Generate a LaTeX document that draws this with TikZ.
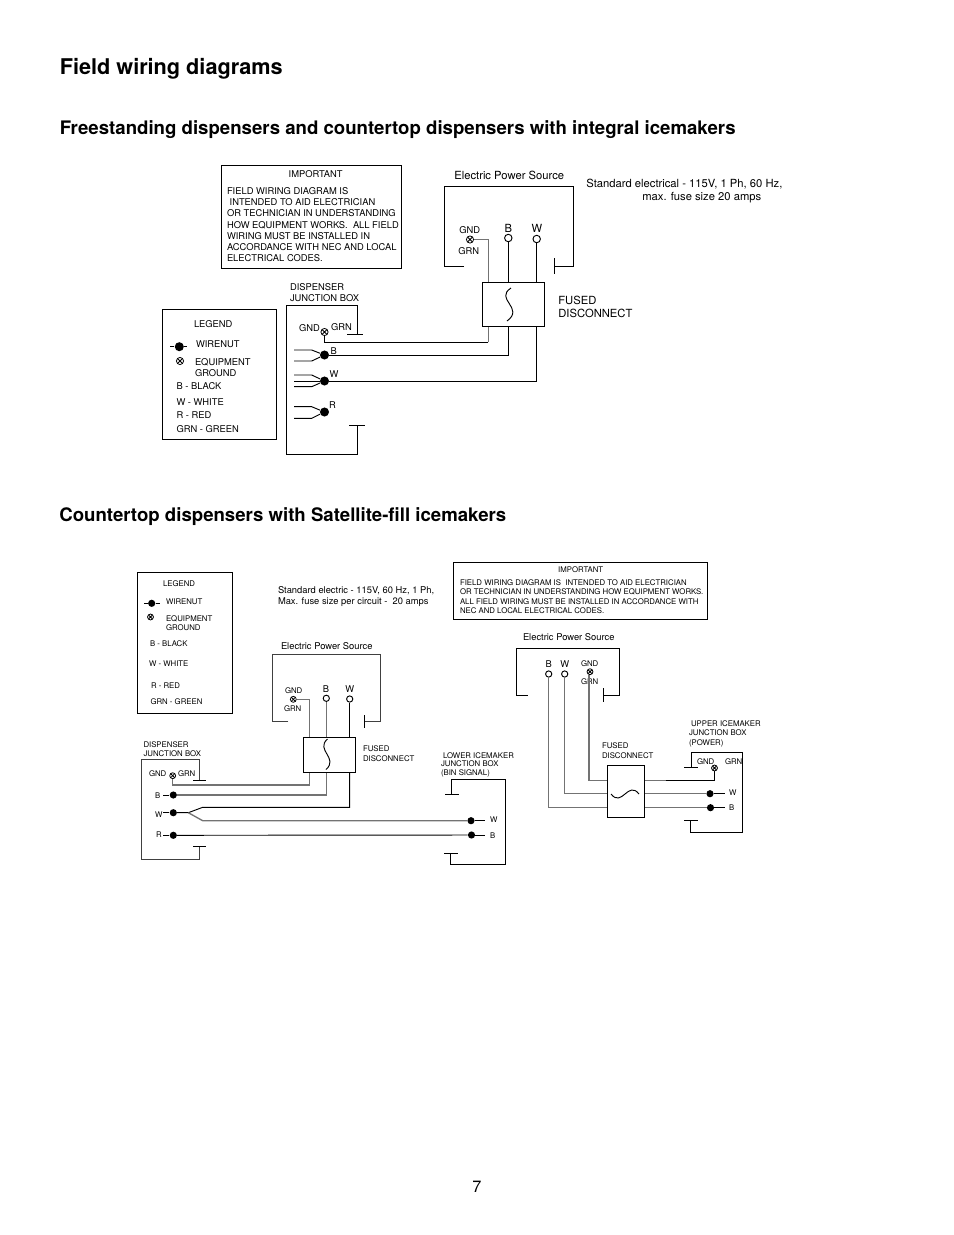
\documentclass[tikz,border=0pt]{standalone}
\usepackage{fontspec}
\setmainfont{TeX Gyre Heros}
\newcommand{\pxu}{0.6415pt}
\begin{document}
\begin{tikzpicture}[
					x=\pxu, y=-\pxu,
					wire/.style={black, line width=0.6pt},
					graywire/.style={black!55, line width=0.85pt},
					outline/.style={black, line width=0.6pt},
					panel/.style={rectangle, draw=black, line width=0.6pt, anchor=north west, inner sep=0pt, xshift=-0.4pt},
					fuse/.style={rectangle, draw=black, line width=0.6pt, anchor=north west, inner sep=0pt, fill=white, xshift=-0.3pt},
					nutbig/.style={circle, fill=black, inner sep=0pt, minimum size=5.8pt},
					nutsmall/.style={circle, fill=black, inner sep=0pt, minimum size=4.6pt},
					term/.style={circle, draw=black, line width=0.6pt, fill=white, inner sep=0pt, minimum size=4.8pt},
					gndbig/.style={circle, draw=black, line width=0.5pt, fill=white, inner sep=0pt, minimum size=4.6pt, path picture={\draw[line width=0.5pt] (path picture bounding box.south west) -- (path picture bounding box.north east) (path picture bounding box.north west) -- (path picture bounding box.south east);}},
					gndsmall/.style={gndbig, minimum size=3.8pt},
					head/.style={anchor=west, inner sep=0pt, font=\bfseries\fontsize{11.95}{14}\selectfont, text height=8.7pt, text depth=0pt},
					title/.style={anchor=west, inner sep=0pt, font=\bfseries\fontsize{13.9}{16}\selectfont, text height=10.1pt, text depth=0pt},
					bigtxt/.style={anchor=west, inner sep=0pt, font=\fontsize{7.2}{9}\selectfont, text height=5.2pt, text depth=0pt},
					midtxt/.style={anchor=west, inner sep=0pt, xshift=-0.2pt, font=\fontsize{6}{7}\selectfont, text height=4.3pt, text depth=0pt},
					smalltxt/.style={anchor=west, inner sep=0pt, xshift=-0.2pt, yshift=-0.5pt, font=\fontsize{5}{6}\selectfont, text height=3.6pt, text depth=0pt},
					ctr/.style={anchor=center}
				]
				\useasboundingbox (0,0) rectangle (954,1235);
				\node[title] (maintitle) at (59.5,67) {Field wiring diagrams};
				\node[head] (headone) at (59.5,128) {Freestanding dispensers and countertop dispensers with integral icemakers};
				\node[head] (headtwo) at (59,515) {Countertop dispensers with Satellite-fill icemakers};
				\node[bigtxt, font=\fontsize{10.5}{12}\selectfont, ctr] (pagenum) at (477,1188) {7};

				\node[panel, minimum width=180.3*\pxu, minimum height=103*\pxu] (importone) at (221.7,165.3) {};
				\node[midtxt, ctr] (importonehead) at (316,174) {IMPORTANT};
				\node[midtxt, anchor=north west, align=left, text height=, font=\fontsize{6}{7.25}\selectfont] (importonebody) at (227,186.8) {FIELD WIRING DIAGRAM IS\\\hspace*{1.7pt}INTENDED TO AID ELECTRICIAN\\OR TECHNICIAN IN UNDERSTANDING\\HOW EQUIPMENT WORKS.\ \ ALL FIELD\\WIRING MUST BE INSTALLED IN\\ACCORDANCE WITH NEC AND LOCAL\\ELECTRICAL CODES.};

				\node[panel, minimum width=114.4*\pxu, minimum height=130*\pxu] (legendone) at (162.3,309.3) {};
				\node[midtxt] (legendonehead) at (194,324) {LEGEND};
				\node[nutbig] (legendonenut) at (179.3,346.7) {};
				\coordinate (legendonestuba) at (170,346.7);
				\coordinate (legendonestubb) at (187,346.7);
				\draw[wire] (legendonestuba) -- (legendonenut) -- (legendonestubb);
				\node[midtxt] (legendonewn) at (196,344) {WIRENUT};
				\node[gndbig] (legendonegnd) at (180,361) {};
				\node[midtxt] (legendoneeq) at (195,362) {EQUIPMENT};
				\node[midtxt] (legendonegr) at (195,373) {GROUND};
				\node[midtxt] (legendoneb) at (176.5,386) {B - BLACK};
				\node[midtxt] (legendonew) at (176.5,402) {W - WHITE};
				\node[midtxt] (legendoner) at (176.5,415) {R - RED};
				\node[midtxt] (legendonegrn) at (176.5,429) {GRN - GREEN};

				\node[bigtxt] (srconelabel) at (454,175) {Electric Power Source};
				\node[bigtxt] (stdonea) at (586,183) {Standard electrical - 115V, 1 Ph, 60 Hz,};
				\node[bigtxt] (stdoneb) at (642,196) {max. fuse size 20 amps};
				\draw[outline] (464,266) -- (444,266) -- (444,186.7) -- (573.5,186.7) -- (573.5,266) -- (554.7,266);
				\draw[outline] (554.7,258) -- (554.7,274);
				\node[midtxt, ctr] (srconegndtxt) at (470,230) {GND};
				\node[midtxt, ctr] (srconegrntxt) at (469,251) {GRN};
				\node[bigtxt, ctr] (srconebtxt) at (508.3,228) {B};
				\node[bigtxt, ctr] (srconewtxt) at (537,228) {W};
				\node[gndbig] (srconegnd) at (470,239.5) {};
				\node[term] (srconeb) at (508.3,238) {};
				\node[term] (srconew) at (536.7,239) {};
				\node[fuse, minimum width=62*\pxu, minimum height=43.4*\pxu] (fuseone) at (482.3,282.3) {};
				\draw[line width=0.6pt] (511,288) .. controls (494,299) and (525,308) .. (507,321);
				\node[bigtxt] (fuseonea) at (558,300) {FUSED};
				\node[bigtxt] (fuseoneb) at (558,313) {DISCONNECT};

				\node[midtxt] (jboxonea) at (290,287) {DISPENSER};
				\node[midtxt] (jboxonec) at (290,298) {JUNCTION BOX};
				\draw[outline] (347.3,334) -- (363,334);
				\draw[outline] (357.3,334) -- (357.3,305) -- (286.7,305) -- (286.7,454) -- (357.3,454) -- (357.3,425.7);
				\draw[outline] (349,425.7) -- (365,425.7);
				\node[midtxt] (jboxonegndtxt) at (299,328.5) {GND};
				\node[midtxt] (jboxonegrntxt) at (331,327.5) {GRN};
				\node[midtxt] (jboxonebtxt) at (330.5,351) {B};
				\node[midtxt] (jboxonewtxt) at (329.5,374) {W};
				\node[midtxt] (jboxonertxt) at (329,405) {R};
				\node[gndbig] (jboxonegnd) at (324.5,332) {};
				\node[nutbig] (jboxoneb) at (324.5,355) {};
				\node[nutbig] (jboxonew) at (324.5,381) {};
				\node[nutbig] (jboxoner) at (324.5,412) {};
				\draw[wire] (294,350) -- (311.7,350) -- (jboxoneb);
				\draw[wire] (294,361) -- (311.7,361) -- (jboxoneb);
				\draw[wire] (294,375) -- (311.7,375) -- (jboxonew);
				\draw[wire] (294,381) -- (jboxonew);
				\draw[wire] (294,386.7) -- (311.7,386.7) -- (jboxonew);
				\draw[wire] (294,406.7) -- (311.7,406.7) -- (jboxoner);
				\draw[wire] (294,418.3) -- (311.7,418.3) -- (jboxoner);

				\coordinate (gndtapone) at (488.3,282.3);
				\coordinate (gndbendone) at (488.3,342.3);
				\draw[graywire] (srconegnd) -| (gndtapone);
				\draw[graywire] (gndtapone |- fuseone.south) -- (gndbendone);
				\draw[wire] (gndbendone) -| (jboxonegnd);
				\draw[wire] (srconeb) -- (srconeb |- fuseone.north);
				\draw[wire] (srconew) -- (srconew |- fuseone.north);
				\draw[wire] (srconeb |- fuseone.south) |- (jboxoneb);
				\draw[wire] (srconew |- fuseone.south) |- (jboxonew);

				\node[panel, minimum width=95*\pxu, minimum height=140.4*\pxu] (legendtwo) at (137.3,572.3) {};
				\node[smalltxt] (legendtwohead) at (163,583) {LEGEND};
				\node[nutsmall] (legendtwonut) at (151.7,603.3) {};
				\coordinate (legendtwostuba) at (144,603.3);
				\coordinate (legendtwostubb) at (160,603.3);
				\draw[wire] (legendtwostuba) -- (legendtwonut) -- (legendtwostubb);
				\node[smalltxt] (legendtwown) at (166,601) {WIRENUT};
				\node[gndsmall] (legendtwognd) at (150.5,617) {};
				\node[smalltxt] (legendtwoeq) at (166,618) {EQUIPMENT};
				\node[smalltxt] (legendtwogr) at (166,627) {GROUND};
				\node[smalltxt] (legendtwob) at (150,643) {B - BLACK};
				\node[smalltxt] (legendtwow) at (149,663) {W - WHITE};
				\node[smalltxt] (legendtwor) at (151,685) {R - RED};
				\node[smalltxt] (legendtwogrn) at (150.5,701) {GRN - GREEN};

				\node[midtxt] (stdtwoa) at (278,590) {Standard electric - 115V, 60 Hz, 1 Ph,};
				\node[midtxt] (stdtwob) at (278,601) {Max. fuse size per circuit -\ \ 20 amps};

				\node[panel, minimum width=254*\pxu, minimum height=56.5*\pxu] (importtwo) at (453.5,562) {};
				\node[smalltxt, ctr] (importtwohead) at (581,569) {IMPORTANT};
				\node[smalltxt] (importtwoa) at (460,582) {FIELD WIRING DIAGRAM IS\ \ INTENDED TO AID ELECTRICIAN};
				\node[smalltxt] (importtwob) at (460,591) {OR TECHNICIAN IN UNDERSTANDING HOW EQUIPMENT WORKS.};
				\node[smalltxt] (importtwoc) at (460,601) {ALL FIELD WIRING MUST BE INSTALLED IN ACCORDANCE WITH};
				\node[smalltxt] (importtwod) at (460,610) {NEC AND LOCAL ELECTRICAL CODES.};

				\node[smalltxt, font=\fontsize{6}{7}\selectfont] (srctwolabel) at (281,646) {Electric Power Source};
				\draw[outline, black!75] (288.3,721.7) -- (272.3,721.7) -- (272.3,654.3) -- (380,654.3) -- (380,721.7) -- (364.3,721.7);
				\draw[outline] (364.3,715) -- (364.3,728.3);
				\node[smalltxt, ctr] (srctwogndtxt) at (294,690) {GND};
				\node[smalltxt, ctr] (srctwogrntxt) at (293,708) {GRN};
				\node[midtxt, ctr] (srctwobtxt) at (326.3,689) {B};
				\node[midtxt, ctr] (srctwowtxt) at (350,689) {W};
				\node[gndsmall] (srctwognd) at (293.3,699.3) {};
				\node[term, minimum size=4pt] (srctwob) at (326.3,698.3) {};
				\node[term, minimum size=4pt] (srctwow) at (349.7,699) {};
				\node[fuse, minimum width=52.4*\pxu, minimum height=35.6*\pxu] (fusetwo) at (303.3,736.7) {};
				\draw[line width=0.6pt] (327.5,739) .. controls (315,750) and (339,758) .. (326,769.5);
				\node[smalltxt] (fusetwoa) at (363,748) {FUSED};
				\node[smalltxt] (fusetwob) at (363,758) {DISCONNECT};

				\node[smalltxt] (jboxtwoa) at (143.5,744) {DISPENSER};
				\node[smalltxt] (jboxtwoc) at (143.5,753) {JUNCTION BOX};
				\draw[outline, black!75] (199.7,780) -- (199.7,759.3) -- (141,759.3) -- (141,859) -- (199.7,859) -- (199.7,846);
				\draw[outline] (193.3,780) -- (206,780);
				\draw[outline] (193.3,846) -- (206,846);
				\node[smalltxt] (jboxtwogndtxt) at (149,773) {GND};
				\node[smalltxt] (jboxtwogrntxt) at (178,773) {GRN};
				\node[smalltxt] (jboxtwobtxt) at (155,795) {B};
				\node[smalltxt] (jboxtwowtxt) at (155,814) {W};
				\node[smalltxt] (jboxtwortxt) at (156,834) {R};
				\node[gndsmall] (jboxtwognd) at (172.7,775.7) {};
				\node[nutsmall] (jboxtwob) at (173.3,795) {};
				\node[nutsmall] (jboxtwow) at (173.3,812.7) {};
				\node[nutsmall] (jboxtwor) at (173.3,835.3) {};
				\coordinate (forkwire) at (188.3,812.7);
				\coordinate (jboxtwobstub) at (163,795);
				\coordinate (jboxtwowstub) at (163,812.7);
				\coordinate (jboxtworstub) at (163,835.3);
				\draw[wire] (jboxtwobstub) -- (jboxtwob);
				\draw[wire] (jboxtwowstub) -- (jboxtwow);
				\draw[wire] (jboxtworstub) -- (jboxtwor);

				\node[smalltxt] (lowera) at (443,755) {LOWER ICEMAKER};
				\node[smalltxt] (lowerb) at (441,763) {JUNCTION BOX};
				\node[smalltxt] (lowerc) at (441,772) {(BIN SIGNAL)};
				\draw[outline] (451.7,794.3) -- (451.7,779.3) -- (505.7,779.3) -- (505.7,864.3) -- (450.7,864.3) -- (450.7,853.3);
				\draw[outline] (445,794.3) -- (459,794.3);
				\draw[outline] (444.3,853.3) -- (457.7,853.3);
				\node[nutsmall] (lowerw) at (471,820.7) {};
				\node[nutsmall] (lowerbk) at (471.5,835) {};
				\coordinate (lowerwstub) at (485,820.7);
				\coordinate (lowerbstub) at (485,835);
				\draw[wire] (lowerw) -- (lowerwstub);
				\draw[wire] (lowerbk) -- (lowerbstub);
				\node[smalltxt] (lowerwtxt) at (490,819) {W};
				\node[smalltxt] (lowerbtxt) at (490,835) {B};

				\coordinate (gndtaptwo) at (309.3,736.7);
				\coordinate (gndbendtwo) at (309.3,785);
				\draw[graywire] (srctwognd) -| (gndtaptwo);
				\draw[graywire] (gndtaptwo |- fusetwo.south) -- (gndbendtwo) -| (jboxtwognd);
				\draw[graywire] (srctwob) -- (srctwob |- fusetwo.north);
				\draw[wire] (srctwow) -- (srctwow |- fusetwo.north);
				\draw[graywire] (srctwob |- fusetwo.south) |- (jboxtwob);
				\coordinate (forkup) at (202.7,807.3);
				\coordinate (forkdown) at (202.7,820.7);
				\draw[wire] (srctwow |- fusetwo.south) |- (forkup) -- (forkwire) -- (jboxtwow);
				\draw[graywire] (forkwire) -- (forkdown) -- (lowerw);
				\draw[wire] (jboxtwor) -- (lowerbk);

				\node[smalltxt, font=\fontsize{6}{7}\selectfont] (srcthreelabel) at (523,637) {Electric Power Source};
				\draw[outline] (527.7,695) -- (516.7,695) -- (516.7,648.3) -- (619,648.3) -- (619,695) -- (603.3,695);
				\draw[outline] (603.3,688.3) -- (603.3,701.7);
				\node[midtxt, ctr] (srcthreebtxt) at (549,664) {B};
				\node[midtxt, ctr] (srcthreewtxt) at (565,664) {W};
				\node[smalltxt, ctr] (srcthreegndtxt) at (590,663) {GND};
				\node[smalltxt, ctr] (srcthreegrntxt) at (590,681) {GRN};
				\node[term, minimum size=4pt] (srcthreeb) at (548.7,674) {};
				\node[term, minimum size=4pt] (srcthreew) at (564.7,674) {};
				\node[gndsmall] (srcthreegnd) at (590,671.7) {};
				\node[fuse, minimum width=37*\pxu, minimum height=51.7*\pxu] (fusethree) at (607.3,765.3) {};
				\draw[line width=0.6pt] (611,794) .. controls (622,808) and (628,780) .. (639,794);
				\node[smalltxt] (fusethreea) at (602,745) {FUSED};
				\node[smalltxt] (fusethreeb) at (602,755) {DISCONNECT};

				\node[smalltxt] (uppera) at (691,723) {UPPER ICEMAKER};
				\node[smalltxt] (upperb) at (689,732) {JUNCTION BOX};
				\node[smalltxt] (upperc) at (689,742) {(POWER)};
				\draw[outline] (691,767.7) -- (691,752.3) -- (742.3,752.3) -- (742.3,832) -- (690.7,832) -- (690.7,820);
				\draw[outline] (684.3,767.7) -- (697.7,767.7);
				\draw[outline] (684,820) -- (698,820);
				\node[smalltxt] (uppergndtxt) at (697,761) {GND};
				\node[smalltxt] (uppergrntxt) at (725,761) {GRN};
				\node[gndsmall] (uppergnd) at (714.5,768) {};
				\node[nutsmall] (upperw) at (710,793.7) {};
				\node[nutsmall] (upperbk) at (710.5,807.7) {};
				\coordinate (upperwstub) at (725,793.7);
				\coordinate (upperbstub) at (725,807.7);
				\draw[wire] (upperw) -- (upperwstub);
				\draw[wire] (upperbk) -- (upperbstub);
				\node[smalltxt] (upperwtxt) at (729,792) {W};
				\node[smalltxt] (upperbtxt) at (729,807) {B};

				\coordinate (gndtapthree) at (589,675);
				\coordinate (gndbendthree) at (665.7,780.7);
				\draw[graywire] (gndtapthree) |- (fusethree.west |- gndbendthree);
				\draw[graywire] (fusethree.east |- gndbendthree) -- (gndbendthree);
				\draw[wire] (gndbendthree) -| (uppergnd);
				\draw[graywire] (srcthreew) |- (fusethree.west |- upperw);
				\draw[graywire] (srcthreeb) |- (fusethree.west |- upperbk);
				\draw[graywire] (fusethree.east |- upperw) -- (upperw);
				\draw[graywire] (fusethree.east |- upperbk) -- (upperbk);
			\end{tikzpicture}
\end{document}
